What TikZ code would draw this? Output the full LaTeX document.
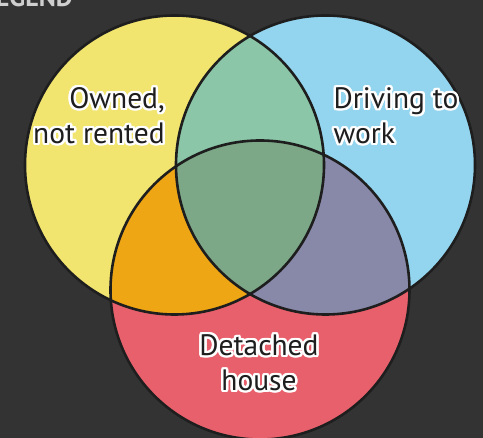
\documentclass[tikz,border=0pt]{standalone}
\usepackage{fontspec}
\setmainfont{PT Sans}
\definecolor{bg}{HTML}{333333}
\definecolor{cy}{HTML}{F1E46F}
\definecolor{cb}{HTML}{93D4EE}
\definecolor{cr}{HTML}{E8606B}
\definecolor{cyb}{HTML}{8AC6A7}
\definecolor{cyr}{HTML}{EEA614}
\definecolor{cbr}{HTML}{8888A8}
\definecolor{cybr}{HTML}{7CA887}
\definecolor{ink}{HTML}{1E1E1E}
\definecolor{legendgray}{HTML}{CFCFCF}
\newcommand\hcopy[3]{\rlap{\hspace*{#1}\raisebox{#2}{\color{white}#3}}}
\newcommand\halo[1]{%
\hcopy{2.4pt}{0pt}{#1}\hcopy{-2.4pt}{0pt}{#1}\hcopy{0pt}{2.4pt}{#1}\hcopy{0pt}{-2.4pt}{#1}%
\hcopy{1.7pt}{1.7pt}{#1}\hcopy{-1.7pt}{1.7pt}{#1}\hcopy{1.7pt}{-1.7pt}{#1}\hcopy{-1.7pt}{-1.7pt}{#1}%
\hcopy{2.2pt}{0.9pt}{#1}\hcopy{-2.2pt}{0.9pt}{#1}\hcopy{2.2pt}{-0.9pt}{#1}\hcopy{-2.2pt}{-0.9pt}{#1}%
\hcopy{0.9pt}{2.2pt}{#1}\hcopy{-0.9pt}{2.2pt}{#1}\hcopy{0.9pt}{-2.2pt}{#1}\hcopy{-0.9pt}{-2.2pt}{#1}%
#1}
\tikzset{
  lbl/.style={inner sep=0pt, text=ink, font=\fontsize{29.5}{35}\selectfont},
  outline/.style={draw=ink, line width=2.6pt},
  legendtxt/.style={inner sep=0pt, text=legendgray, font=\fontsize{26}{30}\selectfont\bfseries}
}
\begin{document}
\begin{tikzpicture}[x=1pt,y=-1pt]
\fill[bg] (0,0) rectangle (483,438);
\useasboundingbox (0,0) rectangle (483,438);
\node[legendtxt, anchor=base east] (legend) at (73,7) {LEGEND};
\coordinate (Y) at (174.5,165);
\coordinate (B) at (325.5,165);
\coordinate (R) at (260,290);
\def\rad{149.5pt}
\fill[cy] (Y) circle[radius=\rad];
\fill[cb] (B) circle[radius=\rad];
\fill[cr] (R) circle[radius=\rad];
\begin{scope}
  \clip (B) circle[radius=\rad];
  \fill[cbr] (R) circle[radius=\rad];
\end{scope}
\begin{scope}
  \clip (Y) circle[radius=\rad];
  \fill[cyb] (B) circle[radius=\rad];
  \fill[cyr] (R) circle[radius=\rad];
  \clip (B) circle[radius=\rad];
  \fill[cybr] (R) circle[radius=\rad];
\end{scope}
\draw[outline] (Y) circle[radius=\rad];
\draw[outline] (B) circle[radius=\rad];
\draw[outline] (R) circle[radius=\rad];
\node[lbl] (owned) at (99,119) {\halo{\begin{tabular}{@{}r@{}}Owned,\\not rented\end{tabular}}};
\node[lbl] (driving) at (396,119) {\halo{\begin{tabular}{@{}l@{}}Driving to\\work\end{tabular}}};
\node[lbl] (detached) at (259,366) {\halo{\begin{tabular}{@{}c@{}}Detached\\house\end{tabular}}};
\end{tikzpicture}
\end{document}
